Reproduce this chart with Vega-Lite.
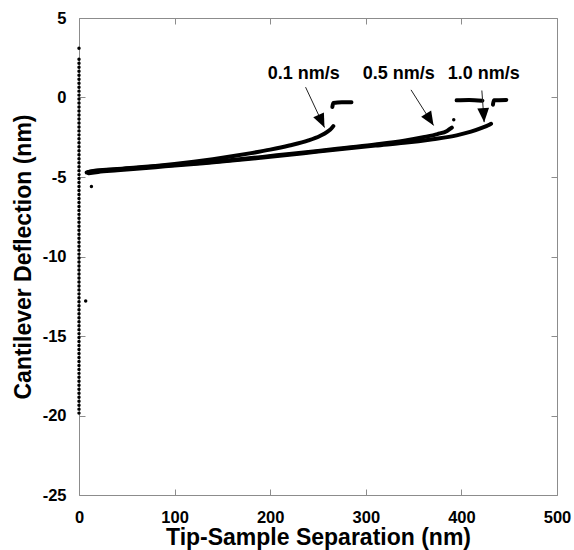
{
  "$schema": "https://vega.github.io/schema/vega-lite/v6.json",
  "width": 478,
  "height": 477,
  "autosize": "none",
  "padding": {"left": 79, "top": 18, "right": 17, "bottom": 55},
  "background": "white",
  "config": {
    "view": {"stroke": "#8c8c8c", "strokeWidth": 1},
    "font": "Liberation Sans",
    "axis": {
      "domain": false,
      "grid": false,
      "tickColor": "#8c8c8c",
      "tickSize": -6,
      "labelFlush": false,
      "labelFont": "Liberation Sans",
      "labelFontWeight": "bold",
      "labelFontSize": 16.5,
      "labelColor": "black",
      "labelExpr": "'' + datum.value",
      "titleFont": "Liberation Sans",
      "titleFontWeight": "bold",
      "titleFontSize": 23,
      "titleColor": "black"
    }
  },
  "datasets": {
    "column": [
      {"x":0,"y":3.1},{"x":0,"y":2.4},{"x":0,"y":2.15},{"x":0,"y":1.9},{"x":0,"y":1.65},{"x":0,"y":1.4},{"x":0,"y":1.15},{"x":0,"y":0.9},{"x":0,"y":0.65},{"x":0,"y":0.4},{"x":0,"y":0.15},{"x":0,"y":-0.1},{"x":0,"y":-0.35},{"x":0,"y":-0.6},{"x":0,"y":-0.85},{"x":0,"y":-1.1},{"x":0,"y":-1.35},{"x":0,"y":-1.6},{"x":0,"y":-1.85},{"x":0,"y":-2.1},{"x":0,"y":-2.35},{"x":0,"y":-2.6},{"x":0,"y":-2.85},{"x":0,"y":-3.1},{"x":0,"y":-3.35},{"x":0,"y":-3.6},{"x":0,"y":-3.85},{"x":0,"y":-4.1},{"x":0,"y":-4.35},{"x":0,"y":-4.6},{"x":0,"y":-4.85},{"x":0,"y":-5.1},{"x":0,"y":-5.35},{"x":0,"y":-5.6},{"x":0,"y":-5.85},{"x":0,"y":-6.1},{"x":0,"y":-6.35},{"x":0,"y":-6.6},{"x":0,"y":-6.85},{"x":0,"y":-7.1},{"x":0,"y":-7.35},{"x":0,"y":-7.6},{"x":0,"y":-7.85},{"x":0,"y":-8.1},{"x":0,"y":-8.35},{"x":0,"y":-8.6},{"x":0,"y":-8.85},{"x":0,"y":-9.1},{"x":0,"y":-9.35},{"x":0,"y":-9.6},{"x":0,"y":-9.85},{"x":0,"y":-10.1},{"x":0,"y":-10.35},{"x":0,"y":-10.6},{"x":0,"y":-10.85},{"x":0,"y":-11.1},{"x":0,"y":-11.35},{"x":0,"y":-11.6},{"x":0,"y":-11.85},{"x":0,"y":-12.1},{"x":0,"y":-12.35},{"x":0,"y":-12.6},{"x":0,"y":-12.85},{"x":0,"y":-13.1},{"x":0,"y":-13.35},{"x":0,"y":-13.6},{"x":0,"y":-13.85},{"x":0,"y":-14.1},{"x":0,"y":-14.35},{"x":0,"y":-14.6},{"x":0,"y":-14.85},{"x":0,"y":-15.1},{"x":0,"y":-15.35},{"x":0,"y":-15.6},{"x":0,"y":-15.85},{"x":0,"y":-16.1},{"x":0,"y":-16.35},{"x":0,"y":-16.6},{"x":0,"y":-16.85},{"x":0,"y":-17.1},{"x":0,"y":-17.35},{"x":0,"y":-17.6},{"x":0,"y":-17.85},{"x":0,"y":-18.1},{"x":0,"y":-18.35},{"x":0,"y":-18.6},{"x":0,"y":-18.85},{"x":0,"y":-19.1},{"x":0,"y":-19.35},{"x":0,"y":-19.6},{"x":0,"y":-19.85},
      {"x":7,"y":-12.8},{"x":13,"y":-5.6},{"x":392,"y":-1.4}
    ],
    "curves": [
      {"s":"0.1","x":8,"y":-4.72},{"s":"0.1","x":15,"y":-4.62},{"s":"0.1","x":25,"y":-4.56},{"s":"0.1","x":40,"y":-4.5},{"s":"0.1","x":60,"y":-4.4},{"s":"0.1","x":80,"y":-4.3},{"s":"0.1","x":100,"y":-4.18},{"s":"0.1","x":120,"y":-4.04},{"s":"0.1","x":140,"y":-3.88},{"s":"0.1","x":160,"y":-3.7},{"s":"0.1","x":180,"y":-3.5},{"s":"0.1","x":200,"y":-3.28},{"s":"0.1","x":220,"y":-3.02},{"s":"0.1","x":240,"y":-2.7},{"s":"0.1","x":252,"y":-2.42},{"s":"0.1","x":260,"y":-2.15},{"s":"0.1","x":264,"y":-1.95},{"s":"0.1","x":266,"y":-1.8},
      {"s":"0.5","x":10,"y":-4.68},{"s":"0.5","x":20,"y":-4.6},{"s":"0.5","x":40,"y":-4.52},{"s":"0.5","x":60,"y":-4.43},{"s":"0.5","x":80,"y":-4.33},{"s":"0.5","x":100,"y":-4.24},{"s":"0.5","x":130,"y":-4.1},{"s":"0.5","x":160,"y":-3.93},{"s":"0.5","x":190,"y":-3.75},{"s":"0.5","x":220,"y":-3.55},{"s":"0.5","x":250,"y":-3.36},{"s":"0.5","x":280,"y":-3.16},{"s":"0.5","x":310,"y":-2.96},{"s":"0.5","x":340,"y":-2.72},{"s":"0.5","x":360,"y":-2.5},{"s":"0.5","x":375,"y":-2.3},{"s":"0.5","x":385,"y":-2.1},{"s":"0.5","x":390,"y":-1.9},
      {"s":"1.0","x":10,"y":-4.76},{"s":"1.0","x":20,"y":-4.68},{"s":"1.0","x":40,"y":-4.58},{"s":"1.0","x":60,"y":-4.48},{"s":"1.0","x":80,"y":-4.38},{"s":"1.0","x":100,"y":-4.28},{"s":"1.0","x":130,"y":-4.13},{"s":"1.0","x":160,"y":-3.97},{"s":"1.0","x":190,"y":-3.79},{"s":"1.0","x":220,"y":-3.6},{"s":"1.0","x":250,"y":-3.4},{"s":"1.0","x":280,"y":-3.21},{"s":"1.0","x":310,"y":-3.02},{"s":"1.0","x":340,"y":-2.85},{"s":"1.0","x":370,"y":-2.62},{"s":"1.0","x":395,"y":-2.38},{"s":"1.0","x":410,"y":-2.15},{"s":"1.0","x":422,"y":-1.9},{"s":"1.0","x":428,"y":-1.75},{"s":"1.0","x":431,"y":-1.65},
      {"s":"p0.1","x":265,"y":-0.6},{"s":"p0.1","x":266,"y":-0.35},{"s":"p0.1","x":275,"y":-0.3},{"s":"p0.1","x":285,"y":-0.3},
      {"s":"p0.5","x":395,"y":-0.18},{"s":"p0.5","x":408,"y":-0.15},{"s":"p0.5","x":422,"y":-0.2},
      {"s":"p1.0","x":433,"y":-0.45},{"s":"p1.0","x":434,"y":-0.18},{"s":"p1.0","x":447,"y":-0.15}
    ],
    "notes": [
      {"label":"0.1 nm/s","tx":235,"ty":1.45,"x1":237,"y1":0.65,"x2":256.8,"y2":-1.89},
      {"label":"0.5 nm/s","tx":334.5,"ty":1.45,"x1":347.3,"y1":0.48,"x2":370.9,"y2":-1.76},
      {"label":"1.0 nm/s","tx":423.5,"ty":1.45,"x1":421.4,"y1":0.44,"x2":423.8,"y2":-1.55}
    ]
  },
  "resolve": {"axis": {"x": "independent", "y": "independent"}},
  "layer": [
    {
      "data": {"name": "column"},
      "mark": {"type": "point", "filled": true, "shape": "circle", "size": 12, "color": "black", "opacity": 1},
      "encoding": {
        "x": {"field": "x", "type": "quantitative", "scale": {"domain": [0, 500], "nice": false, "zero": false},
              "axis": {"values": [0,100,200,300,400,500], "labelPadding": 20, "title": "Tip-Sample Separation (nm)", "titlePadding": 1}},
        "y": {"field": "y", "type": "quantitative", "scale": {"domain": [-25, 5], "nice": false, "zero": false},
              "axis": {"values": [-25,-20,-15,-10,-5,0,5], "labelPadding": 19, "title": "Cantilever Deflection (nm)", "titlePadding": 7}}
      }
    },
    {
      "data": {"name": "curves"},
      "mark": {"type": "line", "color": "black", "strokeWidth": 4, "strokeCap": "round", "strokeJoin": "round", "interpolate": "monotone"},
      "encoding": {
        "x": {"field": "x", "type": "quantitative", "scale": {"domain": [0, 500], "nice": false, "zero": false}, "axis": {"orient": "top", "labels": false, "title": null, "values": [0,100,200,300,400,500]}},
        "y": {"field": "y", "type": "quantitative", "scale": {"domain": [-25, 5], "nice": false, "zero": false}, "axis": {"orient": "right", "labels": false, "title": null, "values": [-25,-20,-15,-10,-5,0,5]}},
        "detail": {"field": "s"}
      }
    },
    {
      "data": {"name": "notes"},
      "mark": {"type": "rule", "color": "#222", "strokeWidth": 1},
      "encoding": {
        "x": {"field": "x1", "type": "quantitative", "scale": {"domain": [0, 500], "nice": false, "zero": false}, "axis": null},
        "y": {"field": "y1", "type": "quantitative", "scale": {"domain": [-25, 5], "nice": false, "zero": false}, "axis": null},
        "x2": {"field": "x2"},
        "y2": {"field": "y2"}
      }
    },
    {
      "data": {"name": "notes"},
      "transform": [{"filter": "datum.label === '0.1 nm/s'"}],
      "mark": {"type": "point", "filled": true, "color": "black", "opacity": 1, "shape": "M0,0 L-0.42,-1 L0.42,-1 Z", "size": 784, "angle": 335},
      "encoding": {
        "x": {"field": "x2", "type": "quantitative", "scale": {"domain": [0, 500], "nice": false, "zero": false}, "axis": null},
        "y": {"field": "y2", "type": "quantitative", "scale": {"domain": [-25, 5], "nice": false, "zero": false}, "axis": null}
      }
    },
    {
      "data": {"name": "notes"},
      "transform": [{"filter": "datum.label === '0.5 nm/s'"}],
      "mark": {"type": "point", "filled": true, "color": "black", "opacity": 1, "shape": "M0,0 L-0.42,-1 L0.42,-1 Z", "size": 784, "angle": 328},
      "encoding": {
        "x": {"field": "x2", "type": "quantitative", "scale": {"domain": [0, 500], "nice": false, "zero": false}, "axis": null},
        "y": {"field": "y2", "type": "quantitative", "scale": {"domain": [-25, 5], "nice": false, "zero": false}, "axis": null}
      }
    },
    {
      "data": {"name": "notes"},
      "transform": [{"filter": "datum.label === '1.0 nm/s'"}],
      "mark": {"type": "point", "filled": true, "color": "black", "opacity": 1, "shape": "M0,0 L-0.42,-1 L0.42,-1 Z", "size": 784, "angle": 356},
      "encoding": {
        "x": {"field": "x2", "type": "quantitative", "scale": {"domain": [0, 500], "nice": false, "zero": false}, "axis": null},
        "y": {"field": "y2", "type": "quantitative", "scale": {"domain": [-25, 5], "nice": false, "zero": false}, "axis": null}
      }
    },
    {
      "data": {"name": "notes"},
      "mark": {"type": "text", "font": "Liberation Sans", "fontWeight": "bold", "fontSize": 18, "color": "black", "align": "center", "baseline": "middle"},
      "encoding": {
        "x": {"field": "tx", "type": "quantitative", "scale": {"domain": [0, 500], "nice": false, "zero": false}, "axis": null},
        "y": {"field": "ty", "type": "quantitative", "scale": {"domain": [-25, 5], "nice": false, "zero": false}, "axis": null},
        "text": {"field": "label"}
      }
    }
  ]
}
